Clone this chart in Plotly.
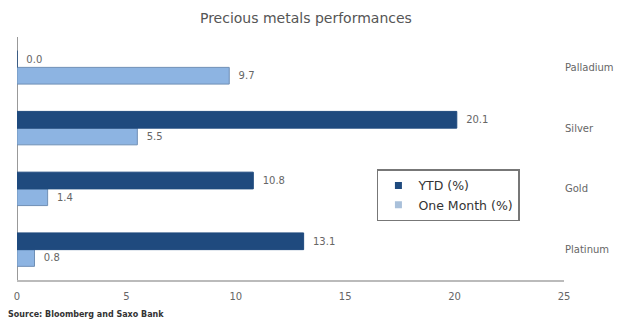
import plotly.graph_objects as go

categories = ["Platinum", "Gold", "Silver", "Palladium"]
ytd = [13.1, 10.8, 20.1, 0.0]
one_month = [0.8, 1.4, 5.5, 9.7]
x_ticks = [0, 5, 10, 15, 20, 25]

dark = "#1F4A7E"
light = "#8DB4E2"
grey = "#666666"
font_family = "DejaVu Sans, Verdana, sans-serif"

fig = go.Figure()
fig.add_trace(go.Bar(
    y=categories, x=one_month, orientation="h", name="One Month (%)", showlegend=False,
    marker=dict(color=light, line=dict(color="#6F8FB5", width=1)),
    text=[f"  {v:.1f}" for v in one_month], textposition="outside",
    textfont=dict(size=10, color=grey, family=font_family), cliponaxis=False,
))
fig.add_trace(go.Bar(
    y=categories, x=ytd, orientation="h", name="YTD (%)", showlegend=False,
    marker=dict(color=dark, line=dict(color=dark, width=1)),
    text=[f"  {v:.1f}" for v in ytd], textposition="outside",
    textfont=dict(size=10, color=grey, family=font_family), cliponaxis=False,
))
# legend entries with small square symbols
fig.add_trace(go.Scatter(x=[None], y=[None], mode="markers", name="YTD (%)",
                         legendgroup="a",
                         marker=dict(symbol="square", size=7, color=dark)))
fig.add_trace(go.Scatter(x=[None], y=[None], mode="markers", name="One Month (%)",
                         legendgroup="b",
                         marker=dict(symbol="square", size=7, color="#A9C0DA")))

fig.update_layout(
    width=640, height=322,
    margin=dict(l=17, r=76, t=37, b=42),
    paper_bgcolor="white", plot_bgcolor="white",
    barmode="group", bargap=0.45, bargroupgap=0.0,
    font=dict(family=font_family, color=grey, size=10),
    title=dict(text="Precious metals performances", x=0.478, xanchor="center",
               y=0.945, yanchor="middle",
               font=dict(size=14, color="#555555", family=font_family)),
    legend=dict(x=0.658, y=0.455, xanchor="left", yanchor="top",
                traceorder="normal", bordercolor="#777777", borderwidth=1.5,
                tracegroupgap=5,
                bgcolor="white", font=dict(size=12.5, color="#333333", family=font_family),
                itemwidth=30),
    xaxis=dict(range=[0, 25], tickvals=x_ticks, ticktext=[str(t) for t in x_ticks],
               showgrid=False, zeroline=True, zerolinecolor="#999999", zerolinewidth=1,
               showline=True, linecolor="#BBBBBB", linewidth=2, ticks="",
               ticklabelstandoff=6, tickfont=dict(size=10, color=grey)),
    yaxis=dict(side="right", showgrid=False, zeroline=False, showline=False, ticks="",
               tickfont=dict(size=10, color=grey), ticklabelstandoff=0,
               range=[-0.5, 3.5]),
)

fig.add_annotation(text="<b>Source: Bloomberg and Saxo Bank</b>", xref="paper", yref="paper",
                   x=-0.02, y=-0.115, xanchor="left", yanchor="top", showarrow=False,
                   font=dict(size=8, color="#333333", family=font_family))

fig.write_html("out.html")
